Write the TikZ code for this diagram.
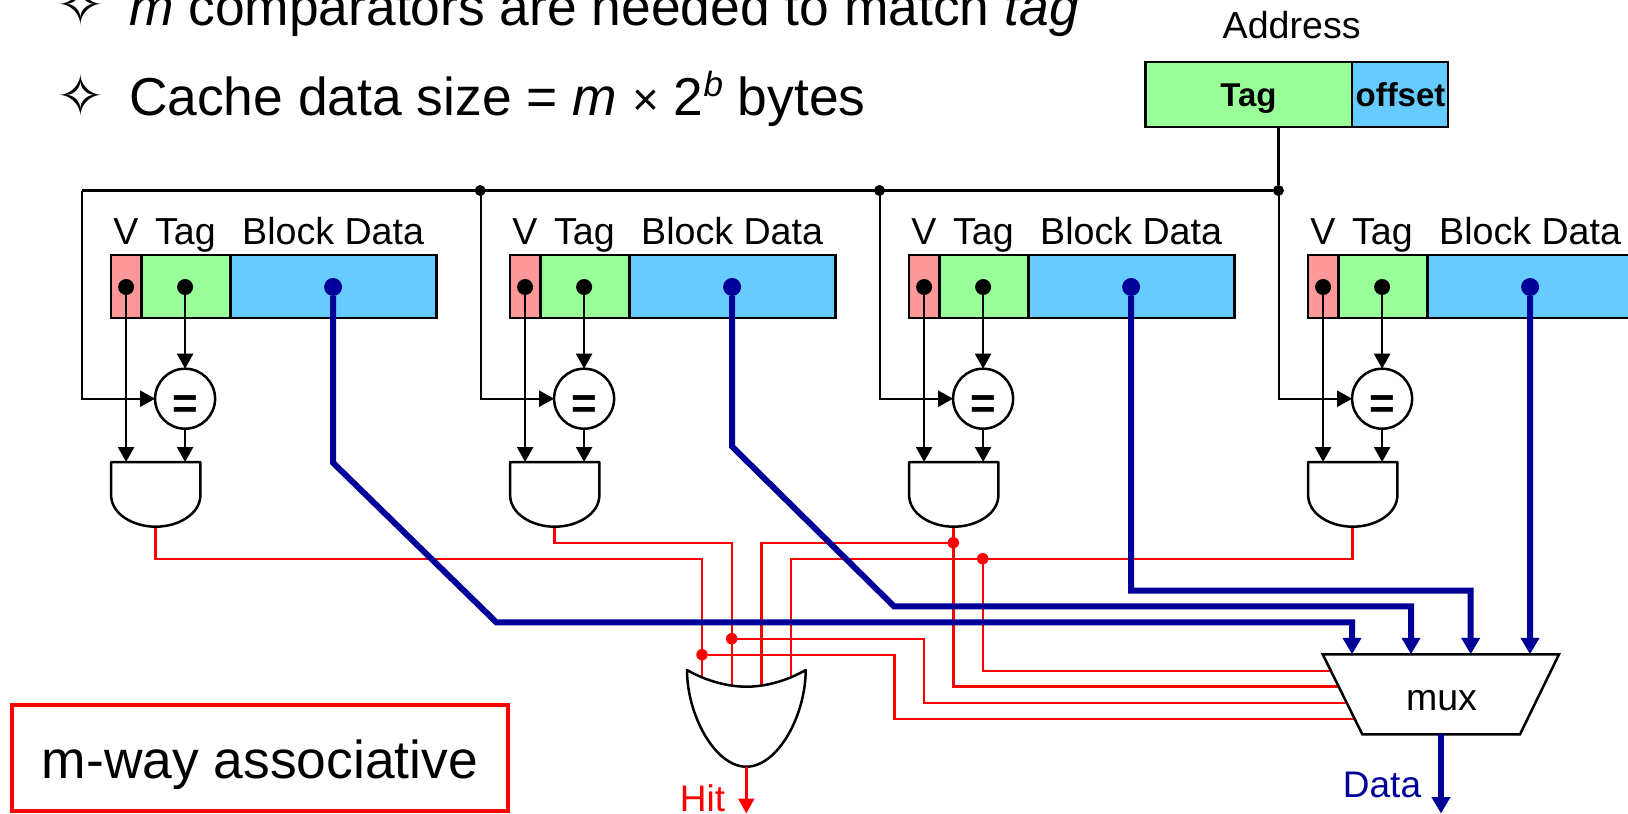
\documentclass[tikz,border=0pt]{standalone}
\usepackage{fontspec}
\setmainfont{Liberation Sans}
\newfontfamily\dejavu{DejaVu Sans}
\usetikzlibrary{arrows.meta}
\newcommand{\fsz}[1]{\fontsize{#1}{#1}\selectfont}
\definecolor{cellred}{HTML}{FF9999}
\definecolor{cellgreen}{HTML}{99FF99}
\definecolor{cellblue}{HTML}{66CCFF}
\definecolor{wireblue}{HTML}{000099}
\tikzset{
  every node/.style={inner sep=0pt,outer sep=0pt},
  cellbox/.style={draw=black,line width=2.5pt,minimum height=63pt},
  lab/.style={anchor=base,font=\fsz{37.6}},
  labl/.style={anchor=base west,font=\fsz{53.4}},
  bulletmark/.style={font=\dejavu\fsz{58}},
  blackw/.style={draw=black,line width=2.4pt},
  blackarrow/.style={blackw,-{Triangle[length=15pt,width=16pt]}},
  redw/.style={draw=red,line width=2.4pt},
  redarrow/.style={redw,-{Triangle[length=15pt,width=16pt]}},
  bluew/.style={draw=wireblue,line width=6pt},
  bluearrow/.style={bluew,-{Triangle[length=16.5pt,width=18pt]}},
  gateline/.style={draw=black,line width=2.5pt,fill=white,line join=round},
  blackdot/.style={circle,fill=black,minimum size=16pt},
  bluedot/.style={circle,fill=wireblue,minimum size=18pt},
  busdot/.style={circle,fill=black,minimum size=11pt},
  reddot/.style={circle,fill=red,minimum size=11.5pt},
  cmpcircle/.style={circle,draw=black,line width=2.5pt,fill=white,minimum size=60pt},
}
\begin{document}
\begin{tikzpicture}[x=1pt,y=-1pt]
\useasboundingbox (0,0) rectangle (1628,814);
\clip (0,0) rectangle (1628,814);
\fill[white] (0,0) rectangle (1628,814);

% header text
\node[bulletmark] (b1) at (81,4.5) {✧};
\node[bulletmark] (b2) at (81,95.5) {✧};
\node[labl] (line1) at (129,25) {\textit{m} comparators are needed to match \textit{tag}};
\node[labl] (line2) at (129,115) {Cache data size = \textit{m} {\fsz{46}×} 2\raisebox{0.34em}{\fsz{35}\itshape b} bytes};

% address
\node[lab] (addr) at (1291.7,38) {Address};
\node[cellbox,fill=cellgreen,minimum width=206.5pt,minimum height=65pt] (atag) at (1248.7,94.5) {};
\node[cellbox,fill=cellblue,minimum width=96pt,minimum height=65pt] (aoff) at (1400,94.5) {};
\node[anchor=base,font=\fsz{33}\bfseries] (atagt) at (1248.5,106) {Tag};
\node[anchor=base,font=\fsz{33}\bfseries] (aofft) at (1400.5,106) {offset};

% red wires (under the blue ones)
\coordinate (g1out) at (155.3,527);
\coordinate (g2out) at (554.3,527);
\coordinate (g3out) at (953.3,527);
\coordinate (g4out) at (1352.3,527);
\coordinate (ca) at (702,558.7);
\coordinate (cb) at (731.7,542.7);
\coordinate (cc) at (761.3,542.7);
\coordinate (cd) at (791,558.7);
\coordinate (or1) at (702,690);
\coordinate (or2) at (731.7,690);
\coordinate (or3) at (761.3,690);
\coordinate (or4) at (791,690);
\node[reddot] (da) at (702,654.7) {};
\node[reddot] (db) at (731.7,638.7) {};
\node[reddot] (dc) at (953.3,542.7) {};
\node[reddot] (dd) at (982.7,558.7) {};
\coordinate (ma) at (894.3,718.7);
\coordinate (mb) at (923.7,702.7);
\coordinate (mc) at (953.3,686.3);
\coordinate (md) at (982.7,670.7);
\coordinate (ea) at (1356,718.7);
\coordinate (eb) at (1350,702.7);
\coordinate (ec) at (1343,686.3);
\coordinate (ed) at (1335,670.7);
\draw[redw] (g1out) |- (ca) -- (or1);
\draw[redw] (g2out) |- (cb) -- (or2);
\draw[redw] (g3out) -- (dc) -- (cc) -- (or3);
\draw[redw] (g4out) |- (cd) -- (or4);
\draw[redw] (da) -| (ma) -- (ea);
\draw[redw] (db) -| (mb) -- (eb);
\draw[redw] (dc) -- (mc) -- (ec);
\draw[redw] (dd) -- (md) -- (ed);

% bus
\coordinate (c1) at (81.7,190.5);
\node[busdot] (j2) at (480.2,190.5) {};
\node[busdot] (j3) at (879.5,190.5) {};
\node[busdot] (j4) at (1278.4,190.5) {};
\draw[blackw] (c1) -- (j4);
\draw[blackw] (atag.south -| j4) -- (j4);

% columns
\foreach \i/\dx in {1/0.4,2/399.4,3/798.4,4/1197.4}{
\begin{scope}[xshift=\dx pt]
  \node[cellbox,fill=cellred,minimum width=30.3pt] (v\i) at (125.85,286.5) {};
  \node[cellbox,fill=cellgreen,minimum width=89pt] (t\i) at (185.5,286.5) {};
  \node[cellbox,fill=cellblue,minimum width=206.2pt] (d\i) at (333.1,286.5) {};
  \node[lab] (lv\i) at (125.5,244) {V};
  \node[lab] (lt\i) at (185,244) {Tag};
  \node[lab] (ld\i) at (332.7,244) {Block Data};
  \node[blackdot] (vd\i) at (125.7,287) {};
  \node[blackdot] (td\i) at (184.7,287) {};
  \node[bluedot] (dd\i) at (332.7,287) {};
  \node[cmpcircle] (cmp\i) at (184.7,398.7) {};
  \node[anchor=base,font=\fsz{44}\bfseries] (eq\i) at (184.7,418.5) {=};
  \coordinate (top\i) at (81.3,190.5);
  \coordinate (in\i a) at (125.7,462);
  \coordinate (in\i b) at (184.7,462);
  \draw[gateline] (110.7,462) -- (200,462) -- (200,495) .. controls (200,514) and (178,526.7) .. (155.3,526.7) .. controls (132.7,526.7) and (110.7,514) .. (110.7,495) -- cycle;
  \draw[blackarrow] (top\i) |- (cmp\i.west);
  \draw[blackarrow] (td\i) -- (cmp\i.north);
  \draw[blackarrow] (vd\i) -- (in\i a);
  \draw[blackarrow] (cmp\i.south) -- (in\i b);
\end{scope}
}

% blue wires
\coordinate (bend1a) at (333,462.7);
\coordinate (bend1b) at (496.3,622.3);
\coordinate (bend2a) at (732,446.5);
\coordinate (bend2b) at (894,606.3);
\coordinate (bend3) at (1131,590.7);
\coordinate (mi1) at (1352,654.3);
\coordinate (mi2) at (1411,654.3);
\coordinate (mi3) at (1470.7,654.3);
\coordinate (mi4) at (1530,654.3);
\coordinate (dataend) at (1441,813.5);
\draw[bluearrow] (dd1) -- (bend1a) -- (bend1b) -| (mi1);
\draw[bluearrow] (dd2) -- (bend2a) -- (bend2b) -| (mi2);
\draw[bluearrow] (dd3) -- (bend3) -| (mi3);
\draw[bluearrow] (dd4) -- (mi4);

% OR gate
\coordinate (ortip) at (746.3,766.7);
\draw[gateline] (687,670) .. controls (708,682) and (730,686.7) .. (746.3,686.7) .. controls (763,686.7) and (785,682) .. (805.7,670) .. controls (805.7,715) and (778,766.7) .. (ortip) .. controls (715,766.7) and (687,715) .. (687,670) -- cycle;
\coordinate (hitend) at (746.3,813.5);
\draw[redarrow] (ortip) -- (hitend);
\node[anchor=base,font=\fsz{37},text=red] (hit) at (702.5,811) {Hit};

% mux
\draw[gateline,line join=miter] (1322.7,654.3) -- (1559,654.3) -- (1520,734.3) -- (1362.3,734.3) -- cycle;
\node[anchor=base,font=\fsz{37.5}] (muxt) at (1441.5,710) {mux};
\coordinate (muxout) at (1441,734.3);
\draw[bluearrow] (muxout) -- (dataend);
\node[anchor=base,font=\fsz{37},text=wireblue] (datat) at (1382,797) {Data};

% label box
\node[draw=red,line width=4pt,minimum width=495.3pt,minimum height=106pt] (box) at (260,758.3) {};
\node[anchor=base,font=\fsz{53.4}] (boxt) at (260,778.5) {m-way associative};
\end{tikzpicture}
\end{document}
